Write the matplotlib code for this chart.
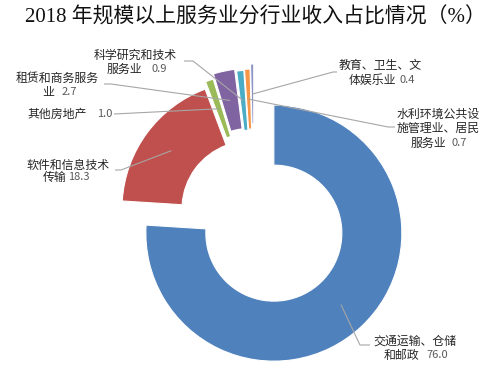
import numpy as np
import matplotlib
matplotlib.use('Agg')
import matplotlib.pyplot as plt

plt.rcParams['font.family'] = ['Noto Sans CJK SC', 'DejaVu Sans']

# data, clockwise from 12 o'clock
industries = ['交通运输、仓储和邮政', '软件和信息技术传输', '其他房地产',
              '租赁和商务服务业', '科学研究和技术服务业',
              '水利环境公共设施管理业、居民服务业', '教育、卫生、文体娱乐业']
shares = [76.0, 18.3, 1.0, 2.7, 0.9, 0.7, 0.4]
colors = ['#4F81BD', '#C0504D', '#9BBB59', '#8064A2', '#4BACC6', '#F79646', '#8C94C4']

W, H = 503, 381


def px(x, y):
    """image pixel coords -> axes data coords (y up)"""
    return x, H - y


fig = plt.figure(figsize=(W / 100, H / 100), dpi=100)
ax = fig.add_axes([0, 0, 1, 1])

R = 128
explode = [29, 5, 11, 16, 14, 15, 20]
wedges, _ = ax.pie(shares, colors=colors, radius=R, center=px(254, 212),
                   startangle=90, counterclock=False, explode=explode,
                   wedgeprops=dict(width=60, edgecolor='white', linewidth=0.8))

ax.set_xlim(0, W)
ax.set_ylim(0, H)
ax.set_aspect('auto')
ax.axis('off')


def anchor(w):
    t = np.deg2rad((w.theta1 + w.theta2) / 2)
    rm = w.r - w.width / 2
    cx, cy = w.center
    return cx + rm * np.cos(t), cy + rm * np.sin(t)


txt_c = '#262626'
num_c = '#595959'
fs = 8.6
nfs = 8


def label(lines, num, num_x, y0, cx, dy=14.5):
    for i, s in enumerate(lines):
        ax.text(*px(cx[i], y0 + i * dy), s, ha='center', va='center',
                fontsize=fs, color=txt_c)
    ax.text(*px(num_x, y0 + (len(lines) - 1) * dy), num, ha='left', va='center',
            fontsize=nfs, color=num_c)


def leader(w, pts):
    xs, ys = [anchor(w)[0]], [anchor(w)[1]]
    for p in pts:
        x, y = px(*p)
        xs.append(x)
        ys.append(y)
    ax.plot(xs, ys, color='#A6A6A6', lw=0.8, solid_capstyle='butt')


# 交通运输
label(['交通运输、仓储', '和邮政'], '76.0', 426, 341, [415, 401])
leader(wedges[0], [(360, 345), (370, 345)])
# 软件
label(['软件和信息技术', '传输'], '18.3', 68, 165, [68, 55], dy=12.5)
leader(wedges[1], [(121, 170), (115, 170)])
# 其他房地产
label(['其他房地产'], '1.0', 97, 114, [57])
leader(wedges[2], [(114, 114)])
# 租赁
label(['租赁和商务服务', '业'], '2.7', 62, 78, [57, 48], dy=14)
leader(wedges[3], [(111, 84), (104, 84)])
# 科学研究
label(['科学研究和技术', '服务业'], '0.9', 152, 55, [135, 124], dy=14)
leader(wedges[4], [(193, 61), (184, 61)])
# 水利环境
label(['水利环境公共设', '施管理业、居民', '服务业'], '0.7', 452, 114, [438, 438, 428])
leader(wedges[5], [(388, 127), (395, 127)])
# 教育
label(['教育、卫生、文', '体娱乐业'], '0.4', 400, 65, [380, 372], dy=15)
leader(wedges[6], [(333, 72), (337, 72)])

ax.text(*px(255, 17), '2018 年规模以上服务业分行业收入占比情况（%）', ha='center', va='center',
        fontsize=15, color='#111111', family=['Liberation Serif', 'Noto Sans CJK SC'])

fig.savefig('out.png', dpi=100)
